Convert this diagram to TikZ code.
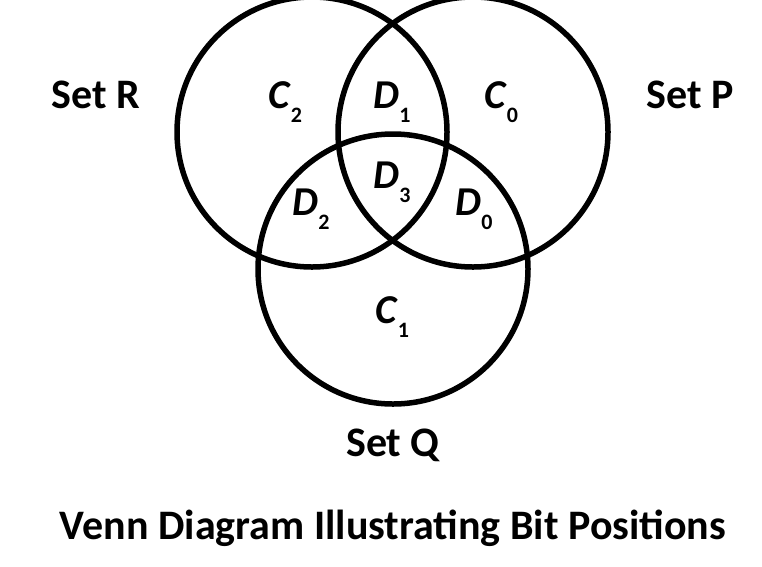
\documentclass[tikz,border=0pt]{standalone}
\usepackage{fontspec}
\setmainfont{Carlito}
\newcommand{\bitlbl}[2]{\textit{#1}\raisebox{-0.36em}{\fontsize{22}{22}\selectfont #2}}
\begin{document}
\begin{tikzpicture}[x=1pt, y=-1pt, every node/.style={font=\bfseries}]
  \useasboundingbox (0,0) rectangle (762,566);

  \tikzset{ring/.style={line width=5.5pt}, setname/.style={font=\bfseries\fontsize{42}{42}\selectfont, anchor=base},
    bit/.style={font=\bfseries\fontsize{41}{41}\selectfont, anchor=base, inner sep=0pt}}

  \def\rad{135}
  \coordinate (R) at (312,132);
  \coordinate (P) at (473,132);
  \coordinate (Q) at (393,269);

  \begin{scope}
    \clip (0,0) rectangle (762,566);
    \draw[ring] (R) circle (\rad);
    \draw[ring] (P) circle (\rad);
    \draw[ring] (Q) circle (\rad);
  \end{scope}

  % regions
  \node[bit] (c2) at (285,108) {\bitlbl{C}{2}};
  \node[bit] (d1) at (392,108) {\bitlbl{D}{1}};
  \node[bit] (c0) at (501,108) {\bitlbl{C}{0}};
  \node[bit] (d3) at (392,188) {\bitlbl{D}{3}};
  \node[bit] (d2) at (311,215) {\bitlbl{D}{2}};
  \node[bit] (d0) at (474,215) {\bitlbl{D}{0}};
  \node[bit] (c1) at (392,323) {\bitlbl{C}{1}};

  \node[setname] (setR) at (96,108) {Set R};
  \node[setname] (setP) at (690,108) {Set P};
  \node[setname] (setQ) at (393,456) {Set Q};
  \node[setname] (title) at (393,539) {Venn Diagram Illustrating Bit Positions};
\end{tikzpicture}
\end{document}
